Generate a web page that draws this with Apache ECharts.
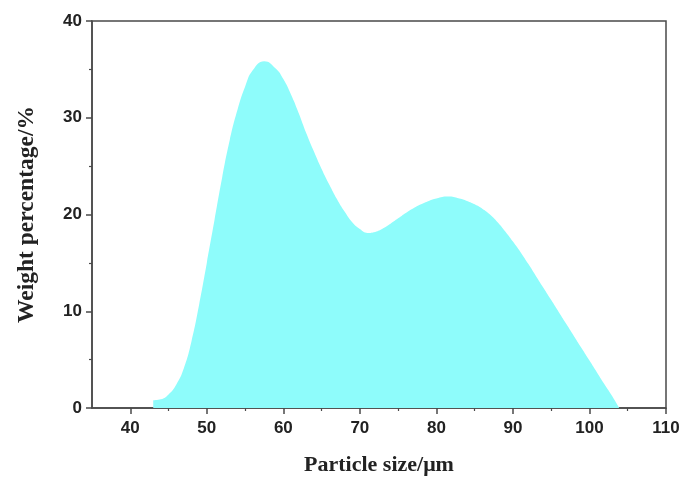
<!DOCTYPE html>
<html>
<head>
<meta charset="utf-8">
<script src="https://cdn.jsdelivr.net/npm/echarts@6/dist/echarts.min.js"></script>
<style>html,body{margin:0;padding:0;background:#fff}#c{width:687px;height:481px}</style>
</head>
<body>
<div id="c"></div>
<script>
const particleSize = [43, 44, 45, 46, 47, 48, 49, 50, 51, 52, 53, 54, 55, 56, 57.5, 59, 60, 61, 62, 63, 64, 65, 66, 67, 68, 69, 70, 71, 72, 73, 74, 75, 76, 77, 78, 79, 80, 81.5, 83, 84, 85, 86, 87, 88, 89, 90, 91, 92, 93, 94, 95, 96, 97, 98, 99, 100, 101, 102, 103, 103.9];
const weightPct = [0.8, 0.9, 1.4, 2.4, 4.1, 6.9, 10.7, 15.0, 19.4, 23.8, 27.7, 30.8, 33.2, 34.9, 35.85, 35.1, 34.0, 32.4, 30.5, 28.4, 26.5, 24.7, 23.1, 21.6, 20.3, 19.2, 18.5, 18.1, 18.2, 18.55, 19.05, 19.6, 20.15, 20.65, 21.05, 21.4, 21.65, 21.85, 21.65, 21.4, 21.05, 20.6, 20.0, 19.2, 18.25, 17.2, 16.1, 14.9, 13.65, 12.4, 11.15, 9.9, 8.65, 7.4, 6.15, 4.9, 3.65, 2.4, 1.2, 0];
const xMajorTicks = [40, 50, 60, 70, 80, 90, 100, 110];
const xMinorTicks = [45, 55, 65, 75, 85, 95, 105];
const xName = 'Particle size/μm';
const yName = 'Weight percentage/%';

const axisColor = '#4a4a4a';
const labelFont = {fontFamily: 'Liberation Sans', fontWeight: 'bold', fontSize: 17, color: '#222'};
const fill = '#8efcfb';

const chart = echarts.init(document.getElementById('c'));
chart.setOption({
  animation: false,
  grid: {left: 92, right: 21, top: 21, bottom: 73, show: true, borderColor: axisColor, borderWidth: 1.5, backgroundColor: 'transparent'},
  xAxis: [{
    type: 'value', min: 35, max: 110,
    name: xName, nameLocation: 'middle', nameGap: 46,
    nameTextStyle: {fontFamily: 'Liberation Serif', fontWeight: 'bold', fontSize: 22, color: '#222'},
    axisLine: {show: true, lineStyle: {color: axisColor, width: 1.5}},
    axisTick: {show: true, length: 6, customValues: xMajorTicks, lineStyle: {color: axisColor, width: 1.5}},
    axisLabel: {show: true, customValues: xMajorTicks, margin: 12, ...labelFont},
    splitLine: {show: false}
  }, {
    type: 'value', min: 35, max: 110, position: 'bottom',
    axisLine: {show: false},
    axisTick: {show: true, length: 3, customValues: xMinorTicks, lineStyle: {color: axisColor, width: 1.2}},
    axisLabel: {show: false},
    splitLine: {show: false}
  }],
  yAxis: {
    type: 'value', min: 0, max: 40, interval: 10,
    name: yName, nameLocation: 'middle', nameGap: 53,
    nameTextStyle: {fontFamily: 'Liberation Serif', fontWeight: 'bold', fontSize: 23.5, color: '#222'},
    axisLine: {show: true, lineStyle: {color: axisColor, width: 1.5}},
    axisTick: {show: true, length: 6, lineStyle: {color: axisColor, width: 1.5}},
    minorTick: {show: true, splitNumber: 2, length: 3, lineStyle: {color: axisColor, width: 1.2}},
    axisLabel: {margin: 10, ...labelFont},
    splitLine: {show: false}
  },
  series: [{
    type: 'line',
    xAxisIndex: 0,
    data: particleSize.map((x, i) => [x, weightPct[i]]),
    smooth: 0.5,
    showSymbol: false,
    lineStyle: {width: 0, color: fill},
    areaStyle: {color: fill, opacity: 1},
    z: 1
  }]
});
</script>
</body>
</html>
